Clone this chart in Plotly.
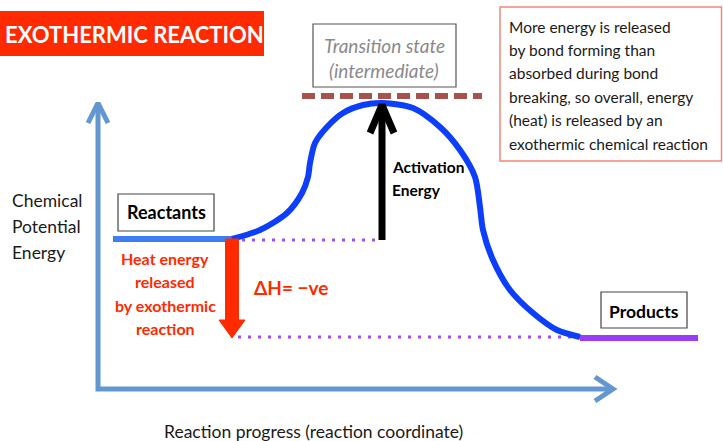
import plotly.graph_objects as go

W, H = 723, 441
FONT = "Lato"

# ---------------- data (reaction progress vs chemical potential energy) ----------------
# energy profile (x = reaction progress, y = energy; both in canvas units, y measured upward)
curve_progress = [232, 260, 287, 302, 308, 310, 315, 327, 343, 363, 383, 413, 440, 460, 475, 480, 483, 493, 510, 533, 557, 580]
curve_energy   = [202, 211, 228, 248, 264, 278, 298, 314, 328, 336, 338, 333, 314, 291, 264, 234, 211, 181, 151, 128, 111, 104]

reactant_progress = [113, 232]
reactant_energy = 202
product_progress = [580, 698]
product_energy = 103
peak_progress = 382
peak_energy = 338
ts_line_progress = [302, 482]
ts_line_energy = 345

axis_origin = (98, 52)      # (progress, energy) corner of the axes arrows
axis_x_end = 613
axis_y_end = 338

note_lines = ["More energy is released", "by bond forming than", "absorbed during bond",
              "breaking, so overall, energy", "(heat) is released by an", "exothermic chemical reaction"]
heat_lines = ["Heat energy", "released", "by exothermic", "reaction"]
ylabel_lines = ["Chemical", "Potential", "Energy"]
ts_lines = ["Transition state", "(intermediate)"]
act_lines = ["Activation", "Energy"]


def E(py):
    """convert a screen row to the energy axis value"""
    return H - py


AXIS_C = "#6397D0"
CURVE_C = "#0D3FFA"
REACT_C = "#3D7EF2"
PURPLE = "#9A3CF5"
DOT_C = "#9B4DFF"
RED = "#FF2A00"
DASH_C = "#A8524D"

fig = go.Figure()

# axes arrows
ox, oy = axis_origin
fig.add_trace(go.Scatter(x=[ox, ox, axis_x_end], y=[axis_y_end, oy, oy], mode="lines",
                         line=dict(color=AXIS_C, width=5), hoverinfo="skip"))
fig.add_trace(go.Scatter(x=[ox - 10, ox, ox + 10], y=[axis_y_end - 20, axis_y_end, axis_y_end - 20],
                         mode="lines", line=dict(color=AXIS_C, width=5), hoverinfo="skip"))
fig.add_trace(go.Scatter(x=[axis_x_end - 18, axis_x_end, axis_x_end - 18], y=[oy + 12, oy, oy - 12],
                         mode="lines", line=dict(color=AXIS_C, width=5), hoverinfo="skip"))

# dotted guide lines
fig.add_trace(go.Scatter(x=[reactant_progress[1], peak_progress], y=[reactant_energy - 1, reactant_energy - 1],
                         mode="lines", line=dict(color=DOT_C, width=3, dash="3px,7px"), hoverinfo="skip"))
fig.add_trace(go.Scatter(x=[reactant_progress[1] + 6, product_progress[0]], y=[product_energy + 1, product_energy + 1],
                         mode="lines", line=dict(color=DOT_C, width=3, dash="3px,7px"), hoverinfo="skip"))

# transition state dashed line
fig.add_trace(go.Scatter(x=ts_line_progress, y=[ts_line_energy] * 2, mode="lines",
                         line=dict(color=DASH_C, width=6, dash="13px,6px"), hoverinfo="skip"))

# reactant level
fig.add_trace(go.Scatter(x=reactant_progress, y=[reactant_energy] * 2, mode="lines",
                         line=dict(color=REACT_C, width=6), hoverinfo="skip"))
# product level
fig.add_trace(go.Scatter(x=product_progress, y=[product_energy] * 2, mode="lines",
                         line=dict(color=PURPLE, width=6), hoverinfo="skip"))
# energy curve
fig.add_trace(go.Scatter(x=curve_progress, y=curve_energy, mode="lines",
                         line=dict(color=CURVE_C, width=6, shape="spline", smoothing=0.8), hoverinfo="skip"))

# activation energy arrow (black)
fig.add_trace(go.Scatter(x=[peak_progress, peak_progress], y=[reactant_energy - 1, peak_energy - 4], mode="lines",
                         line=dict(color="black", width=7), hoverinfo="skip"))
fig.add_trace(go.Scatter(x=[peak_progress - 12, peak_progress, peak_progress + 12],
                         y=[peak_energy - 30, peak_energy - 2, peak_energy - 30], mode="lines",
                         line=dict(color="black", width=7), hoverinfo="skip"))

# heat released arrow (red)
ax = reactant_progress[1]
head_h = 18
fig.add_trace(go.Scatter(
    x=[ax - 6.5, ax + 6.5, ax + 6.5, ax + 13, ax, ax - 13, ax - 6.5, ax - 6.5],
    y=[reactant_energy, reactant_energy, product_energy + head_h, product_energy + head_h,
       product_energy, product_energy + head_h, product_energy + head_h, reactant_energy],
    mode="lines", fill="toself", fillcolor=RED, line=dict(color=RED, width=1), hoverinfo="skip"))

shapes = [
    dict(type="rect", xref="x", yref="y", x0=-5, x1=264, y0=E(56), y1=E(11), fillcolor=RED, line=dict(width=0), layer="below"),
    dict(type="rect", xref="x", yref="y", x0=313, x1=456, y0=E(87), y1=E(24), fillcolor="white", line=dict(color="#555", width=1.2)),
    dict(type="rect", xref="x", yref="y", x0=500, x1=721.5, y0=E(161), y1=E(7), fillcolor="white", line=dict(color="#F3867A", width=1.5)),
    dict(type="rect", xref="x", yref="y", x0=118, x1=214, y0=E(231), y1=E(194), fillcolor="white", line=dict(color="#444", width=1.2)),
    dict(type="rect", xref="x", yref="y", x0=601, x1=687, y0=E(328), y1=E(292), fillcolor="white", line=dict(color="#444", width=1.2)),
]

ann = []


def txt(text, x, py, size, color="#1a1a1a", bold=False, italic=False, xanchor="center"):
    style = "italic" if italic else "normal"
    ann.append(dict(text=text, x=x, y=E(py), xref="x", yref="y", showarrow=False,
                    xanchor=xanchor, yanchor="middle",
                    font=dict(family=FONT, size=size, color=color,
                              weight="bold" if bold else "normal", style=style)))


txt("EXOTHERMIC REACTION", 3, 34, 22, color="white", bold=True, xanchor="left")
for t, py in zip(ts_lines, [45, 70]):
    txt(t, 384, py, 19, color="#8a8a8a", italic=True)
for t, py in zip(note_lines, [27, 50, 73, 97, 120, 144]):
    txt(t, 507, py, 15.5, xanchor="left")
for t, py in zip(ylabel_lines, [200, 226, 252]):
    txt(t, 10, py, 17.5, xanchor="left")
txt("Reactants", 166, 212, 18, color="black", bold=True)
txt("Products", 644, 311, 17.5, color="black", bold=True)
for t, py in zip(act_lines, [167, 190]):
    txt(t, 390, py, 15.5, color="black", bold=True, xanchor="left")
for t, py in zip(heat_lines, [258, 281, 305, 328]):
    txt(t, 165, py, 16, color=RED, bold=True)
txt("ΔH= −ve", 252, 287, 19, color=RED, bold=True, xanchor="left")
txt("Reaction progress (reaction coordinate)", 313, 431, 17.5, xanchor="center")

fig.update_layout(
    width=W, height=H, margin=dict(l=0, r=0, t=0, b=0),
    paper_bgcolor="white", plot_bgcolor="white", showlegend=False,
    xaxis=dict(range=[0, W], visible=False, fixedrange=True),
    yaxis=dict(range=[0, H], visible=False, fixedrange=True),
    shapes=shapes, annotations=ann,
)

fig.write_html("out.html", config={"displayModeBar": False},
               post_script="document.body.style.margin='0';document.body.style.overflow='hidden';")
